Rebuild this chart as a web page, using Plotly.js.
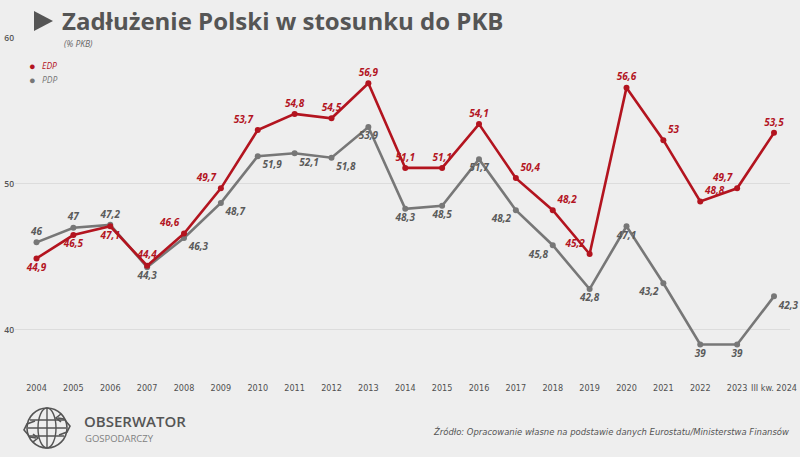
<!DOCTYPE html>
<html><head><meta charset="utf-8">
<script src="https://cdn.plot.ly/plotly-3.0.1.min.js"></script>
<style>html,body{margin:0;padding:0;background:#eeeeee;}#chart{width:800px;height:457px;}</style>
</head><body><div id="chart"></div>
<script>
const categories = ["2004","2005","2006","2007","2008","2009","2010","2011","2012","2013","2014","2015","2016","2017","2018","2019","2020","2021","2022","2023","III kw. 2024"];
const edpValues = [44.9,46.5,47.1,44.4,46.6,49.7,53.7,54.8,54.5,56.9,51.1,51.1,54.1,50.4,48.2,45.2,56.6,53,48.8,49.7,53.5];
const pdpValues = [46,47,47.2,44.3,46.3,48.7,51.9,52.1,51.8,53.9,48.3,48.5,51.7,48.2,45.8,42.8,47.1,43.2,39,39,42.3];
const edpLabelPos = ["bottom center","bottom center","bottom center","top center","top left","top left","top left","top center","top center","top center","top center","top center","top center","top right","top right","top left","top center","top right","top right","top left","top center"];
const pdpLabelPos = ["top center","top center","top center","bottom center","bottom right","bottom right","bottom right","bottom right","bottom right","bottom center","bottom center","bottom center","bottom center","bottom left","bottom left","bottom center","bottom center","bottom left","bottom center","bottom center","bottom right"];
const yTicks = [40,50,60];

const RED = "#b3141f", GRAY = "#777777", GRAYTXT = "#5a5a5a", BG = "#eeeeee";
const fmt = v => String(v).replace(".", ",");
const narrow = "Liberation Sans Narrow, DejaVu Sans Condensed, sans-serif";
const sans = "Open Sans, Noto Sans, sans-serif";

const M = {l:15, r:10, t:38, b:76};
const W = 800, H = 457, PW = W - M.l - M.r, PH = H - M.t - M.b;
const xp = px => (px - M.l) / PW;
const yp = py => (H - M.b - py) / PH;

const traces = [
  {x: categories, y: pdpValues, type: "scatter", mode: "lines+markers+text", name: "PDP", showlegend: false,
   line: {color: GRAY, width: 2.6}, marker: {color: GRAY, size: 6},
   text: pdpValues.map(fmt), textposition: pdpLabelPos,
   textfont: {family: sans, size: 10, color: GRAYTXT, weight: "bold", style: "italic"}, cliponaxis: false, hoverinfo: "x+y"},
  {x: categories, y: edpValues, type: "scatter", mode: "lines+markers+text", name: "EDP", showlegend: false,
   line: {color: RED, width: 2.6}, marker: {color: RED, size: 6},
   text: edpValues.map(fmt), textposition: edpLabelPos,
   textfont: {family: sans, size: 10, color: RED, weight: "bold", style: "italic"}, cliponaxis: false, hoverinfo: "x+y"}
];

function pathPx(points, close) {
  return points.map((p,i) => (i ? "L" : "M") + xp(p[0]).toFixed(5) + "," + yp(p[1]).toFixed(5)).join(" ") + (close ? " Z" : "");
}
const LC = "#555555";
const shapes = [
  // title triangle
  {type: "path", xref: "paper", yref: "paper", path: pathPx([[34,11],[53,21],[34,31]], true), fillcolor: LC, line: {width: 0}},
  // logo globe
  {type: "circle", xref: "paper", yref: "paper", x0: xp(27), x1: xp(67), y0: yp(448), y1: yp(408), line: {color: LC, width: 1.6}},
  {type: "circle", xref: "paper", yref: "paper", x0: xp(38), x1: xp(56), y0: yp(448), y1: yp(408), line: {color: LC, width: 1.4}},
  {type: "line", xref: "paper", yref: "paper", x0: xp(47), x1: xp(47), y0: yp(408), y1: yp(448), line: {color: LC, width: 1.4}},
  {type: "line", xref: "paper", yref: "paper", x0: xp(30), x1: xp(64), y0: yp(420), y1: yp(420), line: {color: LC, width: 1.4}},
  {type: "line", xref: "paper", yref: "paper", x0: xp(28), x1: xp(66), y0: yp(428), y1: yp(428), line: {color: LC, width: 1.4}},
  {type: "line", xref: "paper", yref: "paper", x0: xp(30), x1: xp(64), y0: yp(436), y1: yp(436), line: {color: LC, width: 1.4}},
  // arrows left and right
  {type: "path", xref: "paper", yref: "paper", path: pathPx([[35,421],[27,424],[24,430],[30,437],[36,438]], false), line: {color: LC, width: 1.6}},
  {type: "path", xref: "paper", yref: "paper", path: pathPx([[33,434],[38,438],[33,442]], false), line: {color: LC, width: 1.6}},
  {type: "path", xref: "paper", yref: "paper", path: pathPx([[59,435],[67,432],[70,426],[64,419],[58,418]], false), line: {color: LC, width: 1.6}},
  {type: "path", xref: "paper", yref: "paper", path: pathPx([[61,414],[56,418],[61,422]], false), line: {color: LC, width: 1.6}}
];

const annotations = [
  {xref: "paper", yref: "paper", x: xp(60), y: yp(20), xanchor: "left", yanchor: "middle", showarrow: false,
   text: "<b>Zadłużenie Polski w stosunku do PKB</b>", font: {family: sans, size: 24, color: LC, weight: 800}},
  {xref: "paper", yref: "paper", x: xp(62), y: yp(43), xanchor: "left", yanchor: "middle", showarrow: false,
   text: "<i>(% PKB)</i>", font: {family: sans, size: 8.5, color: "#666666"}},
  // legend
  {xref: "paper", yref: "paper", x: xp(27), y: yp(65), xanchor: "left", yanchor: "middle", showarrow: false,
   text: "●", font: {family: sans, size: 11, color: RED}},
  {xref: "paper", yref: "paper", x: xp(40), y: yp(65), xanchor: "left", yanchor: "middle", showarrow: false,
   text: "<i>EDP</i>", font: {family: sans, size: 8.5, color: RED}},
  {xref: "paper", yref: "paper", x: xp(27), y: yp(79), xanchor: "left", yanchor: "middle", showarrow: false,
   text: "●", font: {family: sans, size: 11, color: GRAY}},
  {xref: "paper", yref: "paper", x: xp(40), y: yp(79), xanchor: "left", yanchor: "middle", showarrow: false,
   text: "<i>PDP</i>", font: {family: sans, size: 8.5, color: GRAY}},
  // footer
  {xref: "paper", yref: "paper", x: xp(82), y: yp(421), xanchor: "left", yanchor: "middle", showarrow: false,
   text: "OBSERWATOR", font: {family: sans, size: 15, color: LC, weight: 600}},
  {xref: "paper", yref: "paper", x: xp(83), y: yp(438), xanchor: "left", yanchor: "middle", showarrow: false,
   text: "GOSPODARCZY", font: {family: sans, size: 9.5, color: "#808080"}},
  {xref: "paper", yref: "paper", x: xp(791), y: yp(431), xanchor: "right", yanchor: "middle", showarrow: false,
   text: "<i>Źródło: Opracowanie własne na podstawie danych Eurostatu/Ministerstwa Finansów</i>", font: {family: narrow, size: 9.4, color: LC}}
];

const layout = {
  width: W, height: H, margin: M, paper_bgcolor: BG, plot_bgcolor: BG,
  showlegend: false,
  xaxis: {type: "category", range: [-0.583, 20.434], showgrid: false, zeroline: false, showline: false, ticks: "",
          tickfont: {family: narrow, size: 9, color: "#505050"}, tickangle: 0, fixedrange: true},
  yaxis: {range: [36.5, 60], tickvals: yTicks, ticktext: yTicks.map(String), showgrid: true, gridcolor: "#dcdcdc", gridwidth: 1,
          zeroline: false, showline: false, ticks: "", tickfont: {family: sans, size: 8.5, color: LC, weight: 600}, fixedrange: true},
  shapes: shapes, annotations: annotations
};

Plotly.newPlot("chart", traces, layout, {displayModeBar: false, staticPlot: true});
</script></body></html>
